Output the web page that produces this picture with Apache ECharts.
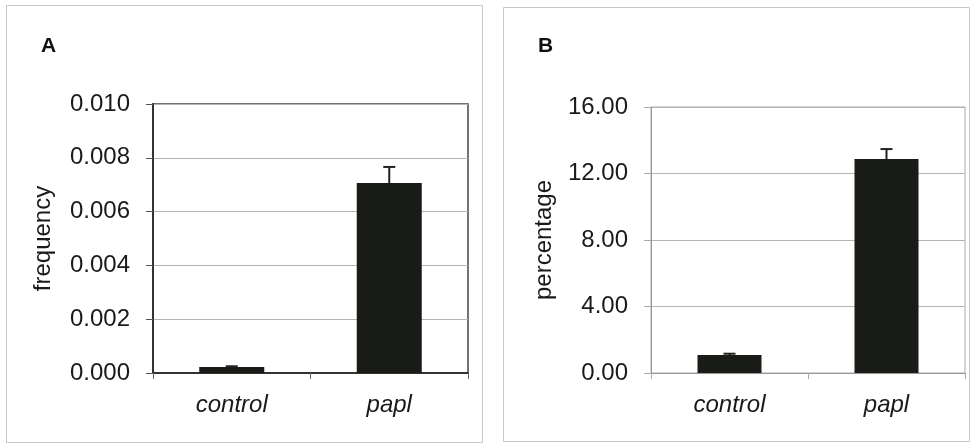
<!DOCTYPE html>
<html>
<head>
<meta charset="utf-8">
<script src="https://cdn.jsdelivr.net/npm/echarts@6/dist/echarts.min.js"></script>
<style>html,body{margin:0;padding:0;background:#fff}#c{width:971px;height:445px}</style>
</head>
<body>
<div id="c"></div>
<script>
// ---- data ----
const categories = ['control', 'papl'];
const freqValues = [0.00022, 0.00706];
const freqErrors = [0.00003, 0.00060];
const pctValues = [1.08, 12.87];
const pctErrors = [0.08, 0.60];
const freqTicks = [0, 0.002, 0.004, 0.006, 0.008, 0.010];
const pctTicks = [0, 4, 8, 12, 16];

const FONT = '"Liberation Sans", Arial, sans-serif';
const BAR = '#191b17';
const chart = echarts.init(document.getElementById('c'), null, {renderer: 'canvas'});

function errSeries(xi, yi, vals, errs) {
  return {
    type: 'custom', xAxisIndex: xi, yAxisIndex: yi, z: 5,
    data: vals.map((v, i) => [i, v, errs[i]]),
    renderItem: function (params, api) {
      const x = api.value(0), v = api.value(1), e = api.value(2);
      const p0 = api.coord([x, v]);
      const p1 = api.coord([x, v + e]);
      const style = {stroke: '#222', lineWidth: 2};
      return {type: 'group', children: [
        {type: 'line', shape: {x1: p0[0], y1: p0[1], x2: p1[0], y2: p1[1]}, style: style},
        {type: 'line', shape: {x1: p1[0] - 6, y1: p1[1], x2: p1[0] + 6, y2: p1[1]}, style: style}
      ]};
    }
  };
}

function yAxis(gi, ticks, dec, name, nameGap, dark) {
  return {
    type: 'value', gridIndex: gi, min: ticks[0], max: ticks[ticks.length - 1],
    interval: ticks[1] - ticks[0],
    name: name, nameLocation: 'middle', nameGap: nameGap, nameRotate: 90,
    nameTextStyle: {fontFamily: FONT, fontSize: 24, color: '#1a1a1a'},
    axisLine: {show: true, lineStyle: {color: dark ? '#333' : '#999', width: dark ? 2 : 1}},
    axisTick: {show: true, length: 7, lineStyle: {color: dark ? '#555' : '#aaa'}},
    axisLabel: {margin: 23, fontFamily: FONT, fontSize: 24, color: '#1a1a1a',
      formatter: v => v.toFixed(dec)},
    splitLine: {show: true, lineStyle: {color: '#b4b4b4', width: 1}}
  };
}

function xAxis(gi, dark) {
  return {
    type: 'category', gridIndex: gi, data: categories,
    axisLine: {show: true, lineStyle: {color: dark ? '#333' : '#999', width: dark ? 2 : 1}},
    axisTick: {show: true, length: 6, alignWithLabel: false, lineStyle: {color: dark ? '#666' : '#aaa'}},
    axisLabel: {margin: 20, fontFamily: FONT, fontSize: 24, fontStyle: 'italic', color: '#1a1a1a'}
  };
}

chart.setOption({
  animation: false,
  backgroundColor: '#fff',
  title: [
    {text: 'A', left: 36, top: 31, textStyle: {fontFamily: FONT, fontSize: 21, fontWeight: 'bold', color: '#111'}},
    {text: 'B', left: 533, top: 31, textStyle: {fontFamily: FONT, fontSize: 21, fontWeight: 'bold', color: '#111'}}
  ],
  graphic: [
    {type: 'rect', shape: {x: 6.5, y: 5.5, width: 476, height: 437}, style: {fill: 'none', stroke: '#c8c8c8', lineWidth: 1}, z: -1},
    {type: 'rect', shape: {x: 503.5, y: 7.5, width: 466, height: 434}, style: {fill: 'none', stroke: '#c8c8c8', lineWidth: 1}, z: -1}
  ],
  grid: [
    {left: 153, top: 104, right: 503, bottom: 72, show: true, borderColor: '#444', borderWidth: 1.5, backgroundColor: '#fff'},
    {left: 651, top: 107, right: 6, bottom: 72, show: true, borderColor: '#aaa', borderWidth: 1, backgroundColor: '#fff'}
  ],
  xAxis: [xAxis(0, true), xAxis(1, false)],
  yAxis: [
    yAxis(0, freqTicks, 3, 'frequency', 98, true),
    yAxis(1, pctTicks, 2, 'percentage', 95, false)
  ],
  series: [
    {type: 'bar', xAxisIndex: 0, yAxisIndex: 0, data: freqValues, barWidth: 65, itemStyle: {color: BAR}},
    errSeries(0, 0, freqValues, freqErrors),
    {type: 'bar', xAxisIndex: 1, yAxisIndex: 1, data: pctValues, barWidth: 64, itemStyle: {color: BAR}},
    errSeries(1, 1, pctValues, pctErrors)
  ]
});
</script>
</body>
</html>
